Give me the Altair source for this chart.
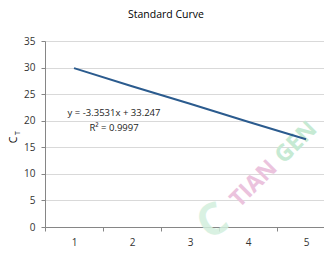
import altair as alt
import pandas as pd

quantity = [1, 2, 3, 4, 5]
ct = [29.9, 26.5, 23.2, 19.8, 16.5]

eq_text = ["y = -3.3531x + 33.247", "R\u00b2 = 0.9997"]
eq_x = [1.69, 1.69]
eq_y = [21.45, 18.6]

wm_text = ["TIAN", "GEN"]
wm_x = [4.10, 4.83]
wm_y = [8.1, 15.9]
wm_color = ["#ebc3dd", "#c6ead3"]

FONT = "Open Sans"
line_df = pd.DataFrame({"Quantity": quantity, "Ct": ct})
eq_df = pd.DataFrame({"t": eq_text, "x": eq_x, "y": eq_y})
wm_df = pd.DataFrame({"t": wm_text, "x": wm_x, "y": wm_y, "c": wm_color})
logo_df = pd.DataFrame({"t": ["C"], "x": [3.40], "y": [0.9]})

xscale = alt.Scale(domain=[0.5, 5.31], nice=False, zero=False)
yscale = alt.Scale(domain=[0, 35], nice=False)

xaxis = alt.Axis(values=quantity, format="d", tickOffset=-29, labelOffset=29, grid=False,
                 domainColor="#868686", tickColor="#868686", tickSize=4,
                 labelFont=FONT, labelFontSize=10, labelColor="#333333",
                 labelPadding=6, title="Quantity", titleFont=FONT, titleFontSize=10.5,
                 titleFontWeight="normal", titleColor="#000000", titleX=136, titleY=33,
                 titleBaseline="middle", labelAngle=0, labelOverlap=False)
yaxis = alt.Axis(values=[0, 5, 10, 15, 20, 25, 30, 35], grid=True, gridColor="#d9d9d9",
                 domainColor="#868686", tickColor="#868686", tickSize=4,
                 labelFont=FONT, labelFontSize=10, labelColor="#333333",
                 labelPadding=6, title=None, labelOverlap=False)


def X(field):
    return alt.X(field, scale=xscale, axis=xaxis)


def Y(field):
    return alt.Y(field, scale=yscale, axis=yaxis)


wm = alt.Chart(wm_df).mark_text(font=FONT, fontSize=23, fontWeight="bold", angle=315).encode(
    x=X("x:Q"), y=Y("y:Q"), text="t:N", color=alt.Color("c:N", scale=None))
logo = alt.Chart(logo_df).mark_text(font=FONT, fontSize=44, fontWeight="bold",
                                    color="#d3efdd", angle=330, opacity=0.85).encode(
    x=X("x:Q"), y=Y("y:Q"), text="t:N")

line = alt.Chart(line_df).mark_line(color="#2b5b8e", strokeWidth=2).encode(
    x=X("Quantity:Q"), y=Y("Ct:Q"))

eq = alt.Chart(eq_df).mark_text(font=FONT, fontSize=9.5, color="#222222").encode(
    x=X("x:Q"), y=Y("y:Q"), text="t:N")

title = alt.Chart(pd.DataFrame({"t": ["Standard Curve"]})).mark_text(
    font=FONT, fontSize=10.5, color="#000000").encode(
    x=alt.value(121), y=alt.value(-26), text="t:N")

ylab_c = alt.Chart(pd.DataFrame({"t": ["C"]})).mark_text(
    font=FONT, fontSize=10.5, color="#000000", angle=270).encode(
    x=alt.value(-31), y=alt.value(99), text="t:N")
ylab_t = alt.Chart(pd.DataFrame({"t": ["T"]})).mark_text(
    font=FONT, fontSize=7, color="#000000", angle=270).encode(
    x=alt.value(-27), y=alt.value(92), text="t:N")

chart = alt.layer(wm, logo, line, eq, title, ylab_c, ylab_t).properties(
    width=279, height=186,
    autosize=alt.AutoSizeParams(type="none"),
    padding={"left": 37, "top": 33, "right": 0, "bottom": 22},
).configure_view(stroke=None).configure(background="#ffffff")

chart.save("out.html", embed_options={"renderer": "svg", "actions": False})
